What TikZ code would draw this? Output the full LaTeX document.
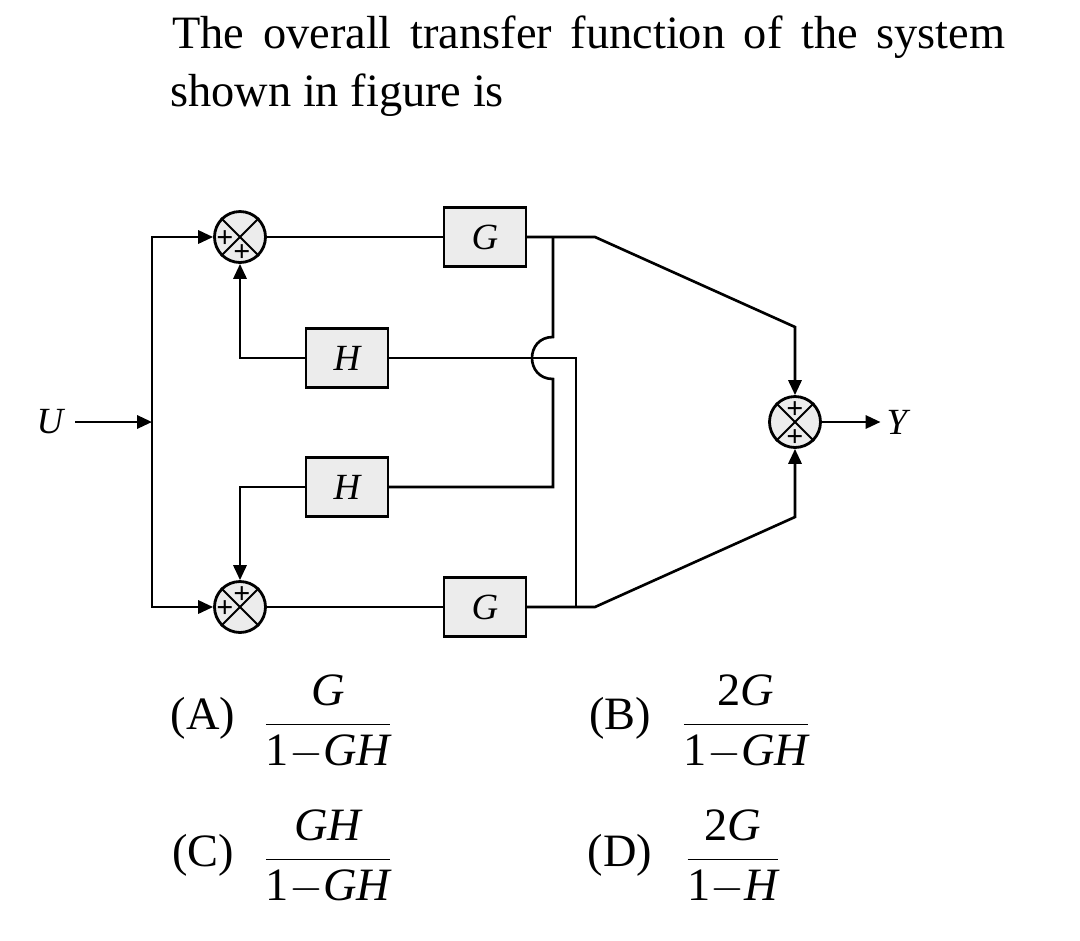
\documentclass[tikz,border=0pt]{standalone}
\usepackage{fontspec}
\setmainfont{Liberation Serif}
\usetikzlibrary{arrows.meta,calc}

\tikzset{
  blk/.style={draw, line width=1.3pt, fill=gray!15, minimum width=1.64cm,
    minimum height=1.18cm, inner sep=0pt, font=\fontsize{21}{21}\selectfont\itshape},
  summer/.style={draw, circle, line width=1.6pt, fill=gray!15, minimum size=1.02cm, inner sep=0pt},
  sgn/.style={font=\fontsize{17}{17}\selectfont\bfseries, inner sep=0pt,
    text height=0.6em, text depth=0pt, yshift=-2.8pt},
  sig/.style={line width=1.5pt},
  arr/.style={sig, -{Triangle[length=8.5pt,width=7.5pt]}},
  lbl/.style={font=\fontsize{21}{21}\selectfont\itshape},
  opt/.style={font=\fontsize{26.4}{31}\selectfont},
}

\begin{document}
\begin{tikzpicture}[x=0.02cm, y=-0.02cm]
  \useasboundingbox (0,0) rectangle (1080,941);

  % question
  \node[opt, anchor=base west, inner sep=0pt] (q1) at (172,48)
    {\makebox[16.66cm][s]{The overall transfer function of the system}};
  \node[opt, anchor=base west, inner sep=0pt] (q2) at (170,106) {shown in figure is};

  % blocks and summing points
  \node[summer] (sumT) at (240,237) {};
  \node[summer] (sumB) at (240,607) {};
  \node[summer] (sumY) at (795,422) {};
  \node[blk] (gT) at (485,237) {G};
  \node[blk] (gB) at (485,607) {G};
  \node[blk] (hT) at (347,358) {H};
  \node[blk] (hB) at (347,487) {H};

  \foreach \s in {sumT,sumB,sumY} {
    \draw[line width=1.1pt] (\s.north west) -- (\s.south east);
    \draw[line width=1.1pt] (\s.north east) -- (\s.south west);
  }
  \node[sgn] at ($(sumT)+(-15,0)$) {+};
  \node[sgn] at ($(sumT)+(2,14)$) {+};
  \node[sgn] at ($(sumB)+(2,-14)$) {+};
  \node[sgn] at ($(sumB)+(-15,0)$) {+};
  \node[sgn] at ($(sumY)+(0,-14)$) {+};
  \node[sgn] at ($(sumY)+(0,14)$) {+};

  \node[lbl] (u) at (50,422) {U};
  \node[lbl] (y) at (897,422) {Y};

  % branch points
  \coordinate (split) at (152,422);
  \coordinate (jT) at (553,237);
  \coordinate (jB) at (576,607);

  % input
  \draw[arr] (75,422) -- (split);
  \draw[arr] (split) |- (sumT.west);
  \draw[arr] (split) |- (sumB.west);

  % forward paths
  \draw[sig] (sumT.east) -- (gT.west);
  \draw[sig] (sumB.east) -- (gB.west);
  \draw[arr] (gT.east) -- (595,237) -- (795,327) -- (sumY.north);
  \draw[arr] (gB.east) -- (595,607) -- (795,517) -- (sumY.south);
  \draw[arr] (sumY.east) -- (y.west);

  % cross feedback
  \draw[sig] (jT) -- (553,337) .. controls (525,337) and (525,379) .. (553,379)
    -- (553,487) -- (hB.east);
  \draw[sig] (hT.east) -- (576,358) -- (jB);
  \draw[arr] (hT.west) -| (sumT.south);
  \draw[arr] (hB.west) -| (sumB.north);

  % answers
  \node[opt] (oa) at (203,718) {(A)};
  \node[opt] (fa) at (328,722) {$\displaystyle\frac{\mbox{\itshape G}}{\mbox{1}{-}\mbox{\itshape GH}}$};
  \node[opt] (ob) at (620,718) {(B)};
  \node[opt] (fb) at (746,722) {$\displaystyle\frac{\mbox{2\itshape G}}{\mbox{1}{-}\mbox{\itshape GH}}$};
  \node[opt] (oc) at (203,855) {(C)};
  \node[opt] (fc) at (328,857) {$\displaystyle\frac{\mbox{\itshape GH}}{\mbox{1}{-}\mbox{\itshape GH}}$};
  \node[opt] (od) at (620,855) {(D)};
  \node[opt] (fd) at (733,857) {$\displaystyle\frac{\mbox{2\itshape G}}{\mbox{1}{-}\mbox{\itshape H}}$};
\end{tikzpicture}
\end{document}
